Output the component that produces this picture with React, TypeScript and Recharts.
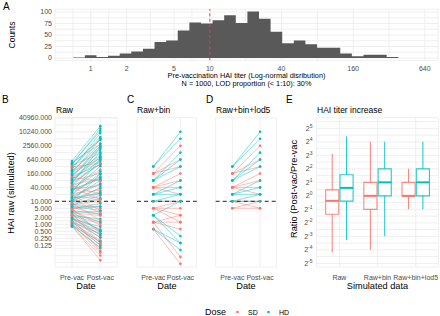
import React from 'react';
import {
  ComposedChart,
  Line,
  Area,
  XAxis,
  YAxis,
  CartesianGrid,
  ReferenceLine,
  ReferenceArea,
} from 'recharts';

const FONT = '"Liberation Sans", Arial, Helvetica, sans-serif';
const SD_COLOR = '#F8766D';
const HD_COLOR = '#00BFC4';
const GRID = '#EBEBEB';
const TICK = '#4D4D4D';

// A: pre-vaccination titer histogram, bins on log2(titer)
const histCounts = [1, 6, 2, 5, 10, 14, 20, 35, 38, 60, 77, 75, 82, 93, 76, 101, 85, 57, 32, 38, 30, 22, 22, 10, 4, 7, 7, 2];
const histFirstEdge = -0.49;
const histBinWidth = 0.324;
const histTickTiters = [1, 2, 5, 10, 40, 160, 640];
const countTicks = [0, 25, 50, 75, 100];
const lodTiter = 10;

// B: raw simulated titers (one entry per subject)
const rawSdPre = [480, 350, 260, 200, 150, 120, 95, 80, 65, 52, 42, 34, 28, 22, 18, 15, 12, 10, 9, 7.5, 6.5, 5.5, 4.6, 3.8, 3.2, 2.7, 2.3, 1.9, 1.6, 1.4, 1.2, 1.05, 0.95, 0.85, 0.8, 2.0, 3.0, 5.0, 13, 40, 310, 110, 48, 19, 8.2, 4.2, 2.5, 1.3];
const rawSdPost = [3000, 1200, 5200, 700, 2000, 380, 900, 160, 420, 95, 240, 48, 120, 30, 60, 14, 36, 9, 22, 5, 12, 2.6, 6, 1.2, 2.4, 0.55, 1.1, 0.26, 0.5, 0.12, 0.2, 0.06, 0.09, 0.028, 0.045, 0.07, 0.15, 0.4, 3, 12, 450, 75, 20, 4, 1.5, 0.9, 0.33, 0.16];
const rawHdPre = [560, 450, 380, 300, 240, 190, 160, 130, 105, 85, 70, 56, 45, 36, 30, 24, 20, 16, 13, 11, 9.5, 8, 6.8, 5.6, 4.8, 4, 3.4, 2.8, 2.4, 2, 1.7, 1.45, 1.25, 1.1, 0.9, 0.82, 60, 25, 10, 3.5, 420, 210, 140, 90, 33, 14, 6, 1.9];
const rawHdPost = [18000, 11000, 14000, 6000, 9000, 3200, 5000, 1600, 2600, 800, 1300, 420, 700, 200, 330, 110, 160, 55, 80, 26, 40, 13, 18, 6, 8, 2.8, 3.6, 1.3, 1.7, 0.6, 0.8, 0.28, 0.4, 0.13, 0.18, 0.1, 2100, 640, 150, 0.5, 4500, 2300, 1000, 560, 90, 22, 4, 0.35];

// C: raw + binned to 10 * 2^k
const binSdPre = [160, 160, 160, 40, 40, 40, 40, 10, 5, 5, 5, 1.25, 1.25, 1.25, 1.25, 0.625, 5];
const binSdPost = [2560, 640, 320, 160, 80, 40, 20, 10, 10, 5, 2.5, 2.5, 1.25, 0.625, 0.0390625, 0.01953125, 1.25];
const binHdPre = [320, 320, 80, 80, 80, 20, 20, 20, 10, 10, 2.5, 2.5, 2.5, 0.625, 0.625];
const binHdPost = [10240, 5120, 1280, 640, 320, 80, 40, 20, 20, 10, 10, 0.3125, 0.15625, 0.15625, 0.078125];

// D: binned + values under LOD set to 5
const lodSdPre = [160, 160, 160, 40, 40, 40, 40, 10, 10, 5, 5];
const lodSdPost = [2560, 640, 320, 160, 80, 40, 20, 10, 5, 10, 5];
const lodHdPre = [320, 320, 80, 80, 80, 20, 20, 20, 10, 10];
const lodHdPost = [10240, 5120, 1280, 640, 320, 80, 40, 20, 20, 10];

const titerTicks = [40960, 10240, 2560, 640, 160, 40, 10, 5, 2, 1, 0.5, 0.25, 0.125];
const dates = ['Pre-vac', 'Post-vac'];

// E: boxplot stats of log2(post/pre)
const ratioGroups = ['Raw', 'Raw+bin', 'Raw+bin+lod5'];
const sdLow = [-4.2, -4, -1];
const sdQ1 = [-1.36, -1, 0];
const sdMed = [-0.37, 0, 0];
const sdQ3 = [0.44, 1, 1];
const sdHigh = [3.1, 4, 2];
const hdLow = [-3.28, -3, -1];
const hdQ1 = [-0.39, 0, 0];
const hdMed = [0.59, 1, 1];
const hdQ3 = [1.56, 2, 2];
const hdHigh = [4.4, 4, 4];
const ratioTicks = [-5, -4, -3, -2, -1, 0, 1, 2, 3, 4, 5];

const PLOT_TOP = 117.7;
const PLOT_BOTTOM = 267;
const TITER_DOMAIN = [-6.13, 15.35];
const RATIO_DOMAIN = [-5.27, 5.79];

const near = (a: number, b: number) => Math.abs(a - b) < 1e-6;

// major positions plus midpoints (ggplot style minor grid)
function withMinor(major: number[], extra: number[] = []) {
  const s = [...major].sort((a, b) => a - b);
  const minor = s.slice(1).map((v, i) => (v + s[i]) / 2);
  return [...s, ...minor, ...extra].sort((a, b) => a - b);
}

const histMajor = histTickTiters.map(Math.log2);
const histGrid = withMinor(histMajor, [-0.5]);
const titerMajor = titerTicks.map(Math.log2);
const titerGrid = withMinor(titerMajor, [-3.5, -4.5, -5.5]);
const countGrid = withMinor(countTicks);
const ratioGrid = withMinor(ratioTicks, [5.5]);

const histData = [
  ...histCounts.map((n, i) => ({ x: histFirstEdge + i * histBinWidth, n })),
  { x: histFirstEdge + histCounts.length * histBinWidth, n: 0 },
];

const tickStyle = { fontSize: 7, fill: TICK, fontFamily: FONT };

function Label({ x, y, size, children, anchor = 'middle', rotate = false, color = '#000' }: any) {
  const tx = anchor === 'middle' ? '-50%' : '0';
  return (
    <div
      style={{
        position: 'absolute',
        left: x,
        top: y,
        fontSize: size,
        lineHeight: 1,
        whiteSpace: 'nowrap',
        color,
        fontFamily: FONT,
        transform: `translate(${tx}, -50%)${rotate ? ' rotate(-90deg)' : ''}`,
      }}
    >
      {children}
    </div>
  );
}

function Histogram() {
  return (
    <div style={{ position: 'absolute', left: 0, top: 0 }}>
      <ComposedChart width={440} height={100} margin={{ top: 9.2, right: 2, bottom: 0, left: 0 }}>
        <CartesianGrid stroke={GRID} strokeWidth={0.8} />
        <XAxis
          type="number"
          dataKey="x"
          domain={[-1.0, 9.69]}
          ticks={histGrid}
          allowDataOverflow
          interval={0}
          height={39.7}
          tickLine={false}
          axisLine={false}
          tickSize={0}
          tickMargin={5.5}
          tick={tickStyle}
          tickFormatter={(v: number) => {
            const i = histMajor.findIndex((m) => near(m, v));
            return i >= 0 ? String(histTickTiters[i]) : '';
          }}
        />
        <YAxis
          type="number"
          domain={[-5, 106]}
          ticks={countGrid}
          allowDataOverflow
          interval={0}
          width={55}
          tickLine={false}
          axisLine={false}
          tickSize={0}
          tickMargin={3}
          tick={tickStyle}
          tickFormatter={(v: number) => (countTicks.includes(v) ? String(v) : '')}
        />
        <Area
          data={histData}
          type="stepAfter"
          dataKey="n"
          fill="#595959"
          fillOpacity={1}
          stroke="none"
          baseValue={0}
          isAnimationActive={false}
        />
        <ReferenceLine x={Math.log2(lodTiter)} stroke="#E8413C" strokeDasharray="3 2.5" strokeWidth={1} />
      </ComposedChart>
    </div>
  );
}

function PairPanel({ left, right, sdPre, sdPost, hdPre, hdPost, showY, lineOpacity, lineWidth }: any) {
  const series: any[] = [];
  const n = Math.max(sdPre.length, hdPre.length);
  for (let i = 0; i < n; i++) {
    if (i < sdPre.length) series.push({ key: `sd${i}`, color: SD_COLOR, pre: sdPre[i], post: sdPost[i] });
    if (i < hdPre.length) series.push({ key: `hd${i}`, color: HD_COLOR, pre: hdPre[i], post: hdPost[i] });
  }
  return (
    <div style={{ position: 'absolute', left: 0, top: 0 }}>
      <ComposedChart width={440} height={316} margin={{ top: PLOT_TOP, right, bottom: 0, left }}>
        <CartesianGrid stroke={GRID} strokeWidth={0.8} />
        <XAxis
          type="number"
          dataKey="x"
          domain={[0.4, 2.6]}
          ticks={[1, 2]}
          allowDataOverflow
          interval={0}
          height={316 - PLOT_BOTTOM}
          tickLine={false}
          axisLine={false}
          tickSize={0}
          tickMargin={8.5}
          tick={tickStyle}
          tickFormatter={(v: number) => dates[v - 1]}
        />
        <YAxis
          type="number"
          domain={TITER_DOMAIN}
          ticks={titerGrid}
          allowDataOverflow
          interval={0}
          width={showY ? 55 : 0}
          tickLine={false}
          axisLine={false}
          tickSize={0}
          tickMargin={3}
          tick={showY ? tickStyle : false}
          tickFormatter={(v: number) => {
            const i = titerMajor.findIndex((m) => near(m, v));
            return i >= 0 ? titerTicks[i].toFixed(3) : '';
          }}
        />
        {series.map((s) => (
          <Line
            key={s.key}
            data={[
              { x: 1, y: Math.log2(s.pre) },
              { x: 2, y: Math.log2(s.post) },
            ]}
            dataKey="y"
            stroke={s.color}
            strokeOpacity={lineOpacity}
            strokeWidth={lineWidth}
            dot={{ r: 1.3, fill: s.color, stroke: 'none', fillOpacity: 1 }}
            activeDot={false}
            isAnimationActive={false}
          />
        ))}
        <ReferenceLine y={Math.log2(lodTiter)} stroke="#222" strokeDasharray="4 3" strokeWidth={1} />
      </ComposedChart>
    </div>
  );
}

function PowTick(props: any) {
  const { x, y, payload } = props;
  const v = payload.value;
  if (!Number.isInteger(v)) return null;
  return (
    <text x={x} y={y} dy={2.5} textAnchor="end" fill={TICK} fontSize={7} fontFamily={FONT}>
      2
      <tspan dy={-3} fontSize={5}>
        {v}
      </tspan>
    </text>
  );
}

function RatioBoxes() {
  const boxes: any[] = [];
  ratioGroups.forEach((_, i) => {
    boxes.push({ key: `sd${i}`, x: i + 1 - 0.1875, color: SD_COLOR, lo: sdLow[i], q1: sdQ1[i], med: sdMed[i], q3: sdQ3[i], hi: sdHigh[i] });
    boxes.push({ key: `hd${i}`, x: i + 1 + 0.1875, color: HD_COLOR, lo: hdLow[i], q1: hdQ1[i], med: hdMed[i], q3: hdQ3[i], hi: hdHigh[i] });
  });
  const hw = 0.172;
  return (
    <div style={{ position: 'absolute', left: 0, top: 0 }}>
      <ComposedChart width={440} height={316} margin={{ top: PLOT_TOP, right: 1.4, bottom: 0, left: 296.5 }}>
        <CartesianGrid stroke={GRID} strokeWidth={0.8} />
        <XAxis
          type="number"
          dataKey="x"
          domain={[0.4, 3.6]}
          ticks={[1, 2, 3]}
          allowDataOverflow
          interval={0}
          height={316 - PLOT_BOTTOM}
          tickLine={false}
          axisLine={false}
          tickSize={0}
          tickMargin={8.5}
          tick={tickStyle}
          tickFormatter={(v: number) => ratioGroups[v - 1]}
        />
        <YAxis
          type="number"
          domain={RATIO_DOMAIN}
          ticks={ratioGrid}
          allowDataOverflow
          interval={0}
          width={20}
          tickLine={false}
          axisLine={false}
          tickSize={0}
          tickMargin={4}
          tick={<PowTick />}
        />
        <Line data={[]} dataKey="y" isAnimationActive={false} />
        {boxes.map((b) => (
          <ReferenceLine
            key={`${b.key}-hi`}
            segment={[
              { x: b.x, y: b.q3 },
              { x: b.x, y: b.hi },
            ]}
            stroke={b.color}
            strokeOpacity={0.85}
            strokeWidth={1.1}
          />
        ))}
        {boxes.map((b) => (
          <ReferenceLine
            key={`${b.key}-lo`}
            segment={[
              { x: b.x, y: b.lo },
              { x: b.x, y: b.q1 },
            ]}
            stroke={b.color}
            strokeOpacity={0.85}
            strokeWidth={1.1}
          />
        ))}
        {boxes.map((b) => (
          <ReferenceArea
            key={`${b.key}-box`}
            x1={b.x - hw}
            x2={b.x + hw}
            y1={b.q1}
            y2={b.q3}
            fill="#fff"
            fillOpacity={0.7}
            stroke={b.color}
            strokeOpacity={0.85}
            strokeWidth={1.1}
          />
        ))}
        {boxes.map((b) => (
          <ReferenceLine
            key={`${b.key}-med`}
            segment={[
              { x: b.x - hw, y: b.med },
              { x: b.x + hw, y: b.med },
            ]}
            stroke={b.color}
            strokeWidth={2}
          />
        ))}
      </ComposedChart>
    </div>
  );
}

export default function App() {
  return (
    <div style={{ position: 'absolute', left: 0, top: 0, width: 440, height: 316, background: '#fff', fontFamily: FONT }}>
      <Histogram />
      <PairPanel left={0} right={322.7} sdPre={rawSdPre} sdPost={rawSdPost} hdPre={rawHdPre} hdPost={rawHdPost} showY lineOpacity={0.42} lineWidth={1} />
      <PairPanel left={137} right={243.3} sdPre={binSdPre} sdPost={binSdPost} hdPre={binHdPre} hdPost={binHdPost} showY={false} lineOpacity={0.55} lineWidth={0.9} />
      <PairPanel left={215.7} right={163.3} sdPre={lodSdPre} sdPost={lodSdPost} hdPre={lodHdPre} hdPost={lodHdPost} showY={false} lineOpacity={0.55} lineWidth={0.9} />
      <RatioBoxes />

      <Label x={3} y={7} size={10} anchor="start">A</Label>
      <Label x={12} y={35} size={8.5} rotate>Counts</Label>
      <Label x={246.5} y={76} size={7.3}>Pre-vaccination HAI titer (Log-normal disribution)</Label>
      <Label x={246.5} y={84} size={7.3}>N = 1000, LOD proportion (&lt; 1:10): 30%</Label>

      <Label x={2} y={100} size={10} anchor="start">B</Label>
      <Label x={127} y={100} size={10} anchor="start">C</Label>
      <Label x={206} y={100} size={10} anchor="start">D</Label>
      <Label x={286} y={100} size={10} anchor="start">E</Label>

      <Label x={56} y={109.5} size={8.5} anchor="start">Raw</Label>
      <Label x={137} y={109.5} size={8.5} anchor="start">Raw+bin</Label>
      <Label x={216} y={109.5} size={8.5} anchor="start">Raw+bin+lod5</Label>
      <Label x={317} y={109.5} size={8.5} anchor="start">HAI titer increase</Label>

      <Label x={12} y={193} size={9.3} rotate>HAI raw (simulated)</Label>
      <Label x={295} y={189} size={9.3} rotate>Ratio (Post-vac/Pre-vac</Label>

      <Label x={86} y={287} size={9.2}>Date</Label>
      <Label x={167} y={287} size={9.2}>Date</Label>
      <Label x={246} y={287} size={9.2}>Date</Label>
      <Label x={377.5} y={287} size={9.2}>Simulated data</Label>

      <Label x={205} y={312} size={9} anchor="start">Dose</Label>
      <div style={{ position: 'absolute', left: 236, top: 310.8, width: 2.6, height: 2.6, borderRadius: '50%', background: SD_COLOR }} />
      <Label x={248} y={312} size={7} anchor="start">SD</Label>
      <div style={{ position: 'absolute', left: 267, top: 310.8, width: 2.6, height: 2.6, borderRadius: '50%', background: HD_COLOR }} />
      <Label x={279} y={312} size={7} anchor="start">HD</Label>
    </div>
  );
}
